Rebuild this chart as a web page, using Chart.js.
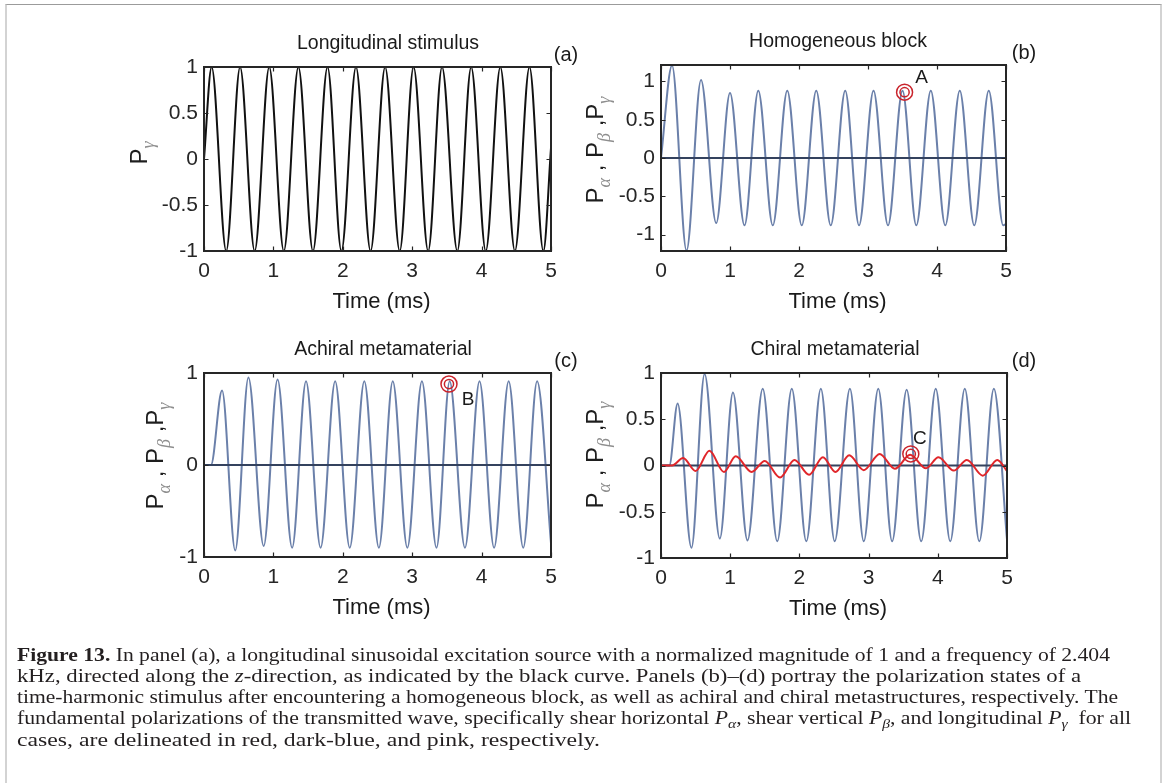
<!DOCTYPE html>
<html><head><meta charset="utf-8">
<script src="https://cdn.jsdelivr.net/npm/chart.js@4.4.1/dist/chart.umd.min.js"></script>
<style>
html,body{margin:0;padding:0;background:#fff;width:1165px;height:783px;overflow:hidden;}
#frame{position:absolute;left:5px;top:4px;width:1153px;height:820px;border-top:1px solid #9b9b9b;border-left:2px solid #d3d3d3;border-right:2px solid #d3d3d3;}
canvas.panel{position:absolute;left:0;top:0;}
.cap{position:absolute;left:17px;font-family:'Liberation Serif','Times New Roman',serif;font-size:18.5px;color:#231f20;white-space:nowrap;transform-origin:0 0;line-height:18px;}
.cap sub{font-size:0.72em;vertical-align:-0.3em;line-height:0;}
</style></head><body>
<div id="frame"></div>
<canvas id="pa" class="panel" width="1165" height="783"></canvas>
<canvas id="pb" class="panel" width="1165" height="783"></canvas>
<canvas id="pc" class="panel" width="1165" height="783"></canvas>
<canvas id="pd" class="panel" width="1165" height="783"></canvas>
<div class="cap" data-end="1110" style="top:646px"><b>Figure 13.</b> In panel (a), a longitudinal sinusoidal excitation source with a normalized magnitude of 1 and a frequency of 2.404</div>
<div class="cap" data-end="1081" style="top:667px">kHz, directed along the <i>z</i>-direction, as indicated by the black curve. Panels (b)–(d) portray the polarization states of a</div>
<div class="cap" data-end="1118" style="top:688px">time-harmonic stimulus after encountering a homogeneous block, as well as achiral and chiral metastructures, respectively. The</div>
<div class="cap" data-end="1131" style="top:709px">fundamental polarizations of the transmitted wave, specifically shear horizontal <i>P</i><sub><i>α</i></sub>, shear vertical <i>P</i><sub><i>β</i></sub>, and longitudinal <i>P</i><sub><i>γ</i></sub>&nbsp; for all</div>
<div class="cap" data-end="600" style="top:731px">cases, are delineated in red, dark-blue, and pink, respectively.</div>
<script>
// ---------------- data ----------------
const timeTicks = [0, 1, 2, 3, 4, 5];
const yTicksHalf = [-1, -0.5, 0, 0.5, 1];
const yTicksUnit = [-1, 0, 1];

// (a) longitudinal stimulus: extrema of the black curve
const timeA = [0, 0.11, 0.32, 0.52, 0.73, 0.94, 1.15, 1.36, 1.57, 1.78, 1.98, 2.19, 2.40, 2.61, 2.82, 3.02, 3.23, 3.43, 3.65, 3.85, 4.06, 4.27, 4.48, 4.69, 4.89, 5.00];
const pGammaA = [0, 1, -1, 1, -1, 1, -1, 1, -1, 1, -1, 1, -1, 1, -1, 1, -1, 1, -1, 1, -1, 1, -1, 1, -1, 0.12];

// (b) homogeneous block
const timeB = [0, 0.16, 0.37, 0.58, 0.80, 1.00, 1.21, 1.41, 1.62, 1.83, 2.04, 2.25, 2.46, 2.67, 2.87, 3.08, 3.29, 3.50, 3.70, 3.91, 4.12, 4.33, 4.54, 4.75, 4.96, 5.00];
const pWaveB = [0, 1.21, -1.21, 1.02, -0.85, 0.85, -0.88, 0.88, -0.88, 0.88, -0.88, 0.88, -0.88, 0.88, -0.88, 0.88, -0.88, 0.88, -0.88, 0.88, -0.88, 0.88, -0.88, 0.88, -0.88, -0.86];

// (c) achiral metamaterial
const timeC = [0, 0.10, 0.26, 0.45, 0.64, 0.86, 1.06, 1.27, 1.47, 1.68, 1.89, 2.10, 2.31, 2.52, 2.72, 2.93, 3.14, 3.35, 3.54, 3.76, 3.97, 4.18, 4.39, 4.60, 4.80, 5.00];
const pWaveC = [0, 0, 0.81, -0.93, 0.95, -0.88, 0.93, -0.90, 0.91, -0.90, 0.91, -0.90, 0.91, -0.90, 0.91, -0.90, 0.91, -0.90, 0.91, -0.90, 0.91, -0.90, 0.91, -0.90, 0.91, -0.85];

// (d) chiral metamaterial
const timeD = [0, 0.12, 0.24, 0.44, 0.63, 0.85, 1.04, 1.25, 1.47, 1.68, 1.89, 2.10, 2.31, 2.51, 2.73, 2.93, 3.14, 3.34, 3.55, 3.76, 3.97, 4.18, 4.39, 4.60, 4.81, 5.00];
const pWaveD = [0, 0, 0.67, -0.89, 0.99, -0.79, 0.79, -0.81, 0.83, -0.82, 0.83, -0.82, 0.83, -0.82, 0.83, -0.82, 0.83, -0.82, 0.82, -0.82, 0.83, -0.82, 0.83, -0.82, 0.83, -0.80];
const timeRedD = [0, 0.16, 0.32, 0.50, 0.70, 0.91, 1.08, 1.31, 1.50, 1.72, 1.93, 2.14, 2.34, 2.52, 2.72, 2.93, 3.16, 3.38, 3.60, 3.83, 4.01, 4.23, 4.42, 4.65, 4.86, 5.00];
const pAlphaD = [0, 0, 0.08, -0.06, 0.16, -0.07, 0.10, -0.07, 0.05, -0.13, 0.06, -0.10, 0.09, -0.07, 0.11, -0.05, 0.125, -0.035, 0.115, -0.03, 0.09, -0.055, 0.06, -0.11, 0.06, -0.06];

// zero (dark-blue) line
const timeZero = [0, 5];
const pZero = [0, 0];

// marked points A, B, C
const markA = {t: 3.53, v: 0.86};
const markB = {t: 3.53, v: 0.88};
const markC = {t: 3.61, v: 0.125};

// ---------------- drawing ----------------
const W = 1165, H = 783;
const YW = 70, XH = 40;   // reserved axis sizes for tick labels
const SANS = "'Liberation Sans', Arial, Helvetica, sans-serif";
Chart.defaults.font.family = SANS;
const BLUE = '#6b80aa', NAVY = '#34425e', RED = '#e0262a', MRED = '#c9232b';

const pts = (ts, vs) => ts.map((t, i) => ({x: t, y: vs[i]}));
const line = (ts, vs, color, order, w) => ({data: pts(ts, vs), borderColor: color, borderWidth: w || 2, pointRadius: 0,
  cubicInterpolationMode: 'monotone', fill: false, order: order});
const marker = (m) => ({data: [{x: m.t, y: m.v}, {x: m.t, y: m.v}], showLine: false, pointRadius: [8, 4.6],
  pointBorderColor: MRED, pointBackgroundColor: 'rgba(0,0,0,0)', pointBorderWidth: 1.5, order: 0, clip: false});

function drawYLabel(ctx, baseX, centerY, segs) {
  const PF = "24px " + SANS, SF = "italic 18px 'Liberation Serif', 'DejaVu Serif', serif";
  ctx.save();
  let total = 0;
  const ws = segs.map(s => { ctx.font = s.sub ? SF : PF; const m = ctx.measureText(s.t).width; total += m; return m; });
  ctx.translate(baseX, centerY);
  ctx.rotate(-Math.PI / 2);
  ctx.textAlign = 'left'; ctx.textBaseline = 'alphabetic';
  let u = -total / 2;
  segs.forEach((s, i) => {
    ctx.font = s.sub ? SF : PF;
    ctx.fillStyle = s.sub ? '#8e8e8e' : '#1e1e1e';
    ctx.fillText(s.t, u, s.sub ? 7 : 0);
    u += ws[i];
  });
  ctx.restore();
}

function makeDecor(cfg) {
  return {
    id: 'decor',
    afterDraw(chart) {
      const ctx = chart.ctx, a = chart.chartArea, xs = chart.scales.x, ys = chart.scales.y;
      ctx.save();
      ctx.strokeStyle = '#262626';
      ctx.lineWidth = 1.2;
      const tl = 4.5;
      ctx.beginPath();
      xs.ticks.forEach(t => { const p = Math.round(xs.getPixelForValue(t.value)) + 0.5;
        ctx.moveTo(p, a.bottom); ctx.lineTo(p, a.bottom - tl); ctx.moveTo(p, a.top); ctx.lineTo(p, a.top + tl); });
      ys.ticks.forEach(t => { const p = Math.round(ys.getPixelForValue(t.value)) + 0.5;
        ctx.moveTo(a.left, p); ctx.lineTo(a.left + tl, p); ctx.moveTo(a.right, p); ctx.lineTo(a.right - tl, p); });
      ctx.stroke();
      ctx.lineWidth = 2;
      ctx.strokeRect(a.left, a.top, a.right - a.left, a.bottom - a.top);
      ctx.fillStyle = '#1a1a1a';
      ctx.textBaseline = 'alphabetic';
      ctx.textAlign = 'center';
      ctx.font = "19.5px " + SANS;
      ctx.fillText(cfg.title, cfg.titleX, a.top - 18);
      ctx.font = "20px " + SANS;
      ctx.fillText(cfg.letter, cfg.letterX, a.top - 6);
      ctx.font = "22px " + SANS;
      ctx.fillText('Time (ms)', (a.left + a.right) / 2 + 4, a.bottom + 57);
      drawYLabel(ctx, cfg.ylabX, cfg.ylabY, cfg.ylab);
      if (cfg.mark) {
        ctx.font = "19px " + SANS;
        const px = xs.getPixelForValue(cfg.mark.t), py = ys.getPixelForValue(cfg.mark.v);
        ctx.fillText(cfg.markLabel, px + cfg.markDx, py + cfg.markDy);
      }
      ctx.restore();
    }
  };
}

function makePanel(id, cfg) {
  return new Chart(document.getElementById(id), {
    type: 'line',
    data: {datasets: cfg.datasets},
    options: {
      responsive: false, animation: false, events: [],
      layout: {padding: {left: cfg.box[0] - YW, top: cfg.box[1], right: W - cfg.box[2], bottom: H - cfg.box[3] - XH}},
      plugins: {legend: {display: false}, tooltip: {enabled: false}, title: {display: false}},
      scales: {
        x: {type: 'linear', min: 0, max: 5,
          grid: {display: false, drawTicks: false}, border: {display: false},
          afterFit(s) { s.height = XH; },
          afterBuildTicks(s) { s.ticks = timeTicks.map(v => ({value: v})); },
          ticks: {padding: 8, font: {size: 21}, color: '#262626', autoSkip: false, maxRotation: 0, callback: v => String(v)}},
        y: {type: 'linear', min: cfg.ymin, max: cfg.ymax,
          grid: {display: false, drawTicks: false}, border: {display: false},
          afterFit(s) { s.width = YW; },
          afterBuildTicks(s) { s.ticks = cfg.yticks.map(v => ({value: v})); },
          ticks: {padding: 6, font: {size: 21}, color: '#262626', autoSkip: false, callback: v => String(v)}}
      }
    },
    plugins: [makeDecor(cfg)]
  });
}

const labelPABG = [{t: 'P'}, {t: 'α', sub: 1}, {t: ' , '}, {t: 'P'}, {t: 'β', sub: 1}, {t: ' ,'}, {t: 'P'}, {t: 'γ', sub: 1}];

makePanel('pa', {box: [204, 67, 551, 251], ymin: -1, ymax: 1, yticks: yTicksHalf,
  title: 'Longitudinal stimulus', titleX: 388, letter: '(a)', letterX: 566,
  ylab: [{t: 'P'}, {t: 'γ', sub: 1}], ylabX: 147, ylabY: 153,
  datasets: [line(timeA, pGammaA, '#111111', 1, 2)]});

makePanel('pb', {box: [661, 65, 1006, 251], ymin: -1.215, ymax: 1.215, yticks: yTicksHalf,
  title: 'Homogeneous block', titleX: 838, letter: '(b)', letterX: 1024,
  ylab: labelPABG, ylabX: 603, ylabY: 150,
  mark: markA, markLabel: 'A', markDx: 17, markDy: -9,
  datasets: [marker(markA), line(timeZero, pZero, NAVY, 1, 2), line(timeB, pWaveB, BLUE, 2, 2)]});

makePanel('pc', {box: [204, 373, 551, 557], ymin: -1, ymax: 1, yticks: yTicksUnit,
  title: 'Achiral metamaterial', titleX: 383, letter: '(c)', letterX: 566,
  ylab: labelPABG, ylabX: 163, ylabY: 456,
  mark: markB, markLabel: 'B', markDx: 19, markDy: 21,
  datasets: [marker(markB), line(timeZero, pZero, NAVY, 1, 2), line(timeC, pWaveC, BLUE, 2, 2)]});

makePanel('pd', {box: [661, 373, 1007, 558], ymin: -1, ymax: 1, yticks: yTicksHalf,
  title: 'Chiral metamaterial', titleX: 835, letter: '(d)', letterX: 1024,
  ylab: labelPABG, ylabX: 603, ylabY: 455,
  mark: markC, markLabel: 'C', markDx: 9, markDy: -10,
  datasets: [marker(markC), line(timeRedD, pAlphaD, RED, 1, 2), line(timeZero, pZero, NAVY, 2, 2), line(timeD, pWaveD, BLUE, 3, 2)]});

// fit each caption line horizontally to its printed extent
document.querySelectorAll('.cap').forEach(el => {
  const w = el.getBoundingClientRect().width;
  const s = (parseFloat(el.dataset.end) - 17) / w;
  el.style.transform = 'scaleX(' + s.toFixed(4) + ')';
});
</script>
</body></html>
